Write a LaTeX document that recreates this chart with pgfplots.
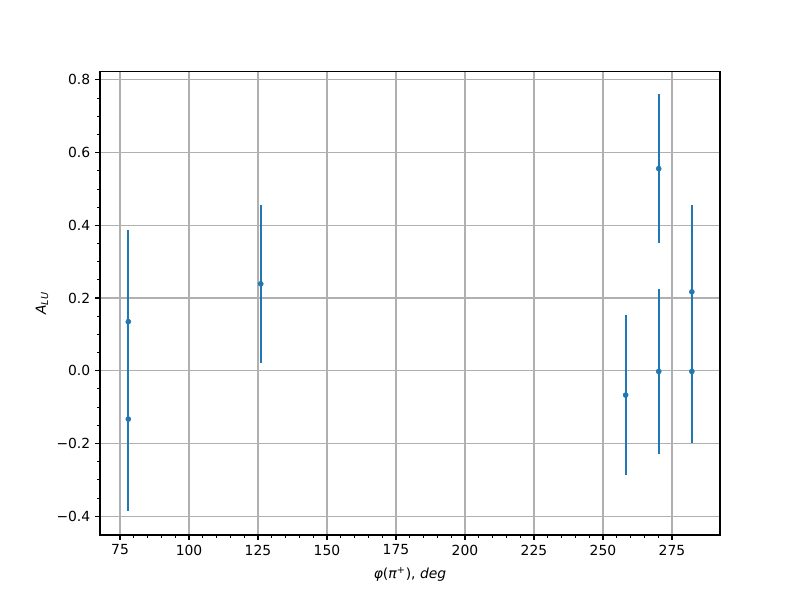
\documentclass[border=0pt]{standalone}
\usepackage{pgfplots}
\pgfplotsset{compat=1.18}
\usepackage{fontspec}
\setmainfont{DejaVu Sans}
\definecolor{c0}{HTML}{1F77B4}
\definecolor{gridc}{HTML}{B0B0B0}
\begin{document}
\begin{tikzpicture}
\useasboundingbox (-72pt,-46.8pt) rectangle (504pt,385.2pt);
\begin{axis}[
  scale only axis,
  width=446.4pt, height=333.4pt,
  xmin=67.75, xmax=292.4,
  ymin=-0.452, ymax=0.822,
  xtick={75,100,...,275},
  ytick={-0.4,-0.2,0,0.2,0.4,0.6,0.8},
  yticklabels={−0.4,−0.2,0.0,0.2,0.4,0.6,0.8},
  minor x tick num=4,
  minor y tick num=3,
  tick align=outside,
  tick pos=left,
  major tick length=3.5pt,
  minor tick length=2pt,
  every tick/.style={black, line width=0.8pt},
  minor tick style={black, line width=0.6pt},
  grid=major,
  major grid style={gridc, line width=0.75pt},
  axis line style={black, line width=0.8pt},
  /pgf/number format/assume math mode=true,
  ticklabel style={font=\fontsize{10}{12}\selectfont},
  xlabel={\textit{φ}(\textit{π}\textsuperscript{+}), \textit{deg}},
  ylabel={\textit{A}\textsubscript{\textit{LU}}},
  label style={font=\fontsize{10}{12}\selectfont},
  xlabel style={at={(axis description cs:0.5,-0.086)}, anchor=center},
  ylabel style={at={(axis description cs:-0.0935,0.5)}, anchor=center, rotate=0},
]
\addplot[c0, only marks, mark=*, mark size=1.8pt,
  error bars/.cd, y dir=both, y explicit, error mark=none,
  error bar style={c0, line width=1.5pt}]
  coordinates {
  (78,0.135) +- (0,0.253)
  (78,-0.133) +- (0,0.253)
  (126,0.239) +- (0,0.217)
  (258.2,-0.067) +- (0,0.22)
  (270.2,0.556) +- (0,0.204)
  (270.2,-0.002) +- (0,0.227)
  (282.2,0.217) +- (0,0.239)
  (282.2,-0.002) +- (0,0.197)
  };
\end{axis}
\end{tikzpicture}
\end{document}
